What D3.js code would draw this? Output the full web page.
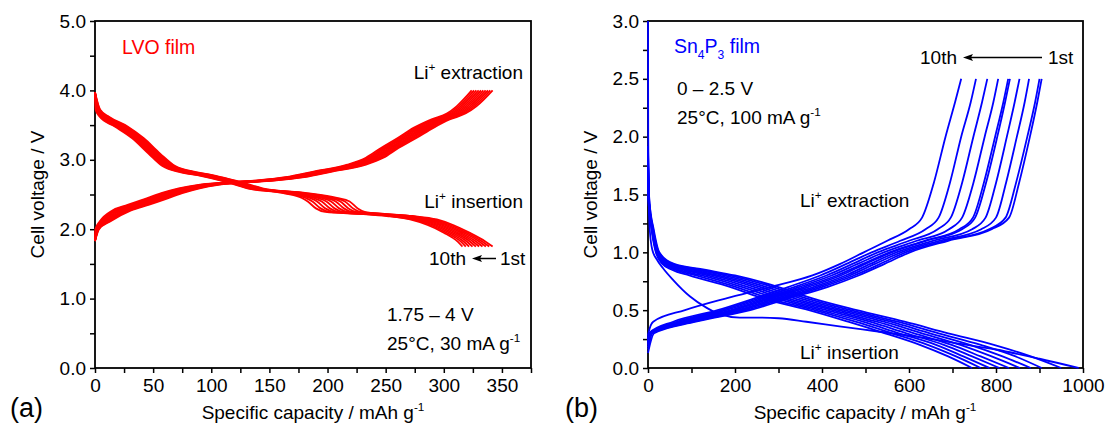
<!DOCTYPE html>
<html><head><meta charset="utf-8">
<script src="https://cdn.jsdelivr.net/npm/d3@7"></script>
<style>body{margin:0;background:#fff}</style>
</head><body>
<svg id="c" width="1109" height="426" xmlns="http://www.w3.org/2000/svg"></svg>
<script>
// ---------------- DATA ----------------
// Panel (a): LVO film, 10 cycles. Rows = voltage levels, columns = cycle 1..10 (capacity, mAh/g)
const lvoXMajor = [0,50,100,150,200,250,300,350];
const lvoXMinor = [25,75,125,175,225,275,325,375];
const lvoYMajor = [0,1,2,3,4,5];
const lvoYMinor = [0.5,1.5,2.5,3.5,4.5];

const lvoDisV = [3.97,3.72,3.62,3.48,3.31,3.09,2.91,2.82,2.77,2.69,2.59,2.52,2.45,2.40,2.30,2.25,2.22,2.19,2.14,2.06,1.95,1.82,1.75];
const lvoDisCap = [
 [0,0,0,0,0,0,0,0,0,0],
 [4.5,4.1,3.6,3.2,2.7,2.3,1.8,1.4,0.9,0.5],
 [12,11.1,10.2,9.3,8.4,7.6,6.7,5.8,4.9,4],
 [28,26.8,25.6,24.3,23.1,21.9,20.7,19.4,18.2,17],
 [42,40.9,39.8,38.7,37.6,36.4,35.3,34.2,33.1,32],
 [56,54.9,53.8,52.7,51.6,50.4,49.3,48.2,47.1,46],
 [69,67.8,66.6,65.3,64.1,62.9,61.7,60.4,59.2,58],
 [88,86.4,84.9,83.3,81.8,80.2,78.7,77.1,75.6,74],
 [104,102.6,101.1,99.7,98.2,96.8,95.3,93.9,92.4,91],
 [123,121.7,120.3,119,117.7,116.3,115,113.7,112.3,111],
 [144,142.6,141.1,139.7,138.2,136.8,135.3,133.9,132.4,131],
 [182,179.8,177.6,175.3,173.1,170.9,168.7,166.4,164.2,162],
 [208,204.7,201.3,198,194.7,191.3,188,184.7,181.3,178],
 [219,215,211,207,203,199,195,191,187,183],
 [226,222,218,214,210,206,202,198,194,190],
 [232,228.2,224.4,220.7,216.9,213.1,209.3,205.6,201.8,198],
 [249,246.8,244.6,242.3,240.1,237.9,235.7,233.4,231.2,229],
 [273,270.6,268.1,265.7,263.2,260.8,258.3,255.9,253.4,251],
 [294,291.4,288.9,286.3,283.8,281.2,278.7,276.1,273.6,271],
 [308,305.6,303.1,300.7,298.2,295.8,293.3,290.9,288.4,286],
 [322,319.6,317.1,314.7,312.2,309.8,307.3,304.9,302.4,300],
 [336,333.3,330.7,328,325.3,322.7,320,317.3,314.7,312],
 [342,339.1,336.2,333.3,330.4,327.6,324.7,321.8,318.9,316]
];

const lvoChgV = [1.83,2.00,2.11,2.27,2.35,2.43,2.52,2.59,2.64,2.67,2.70,2.75,2.83,2.93,3.03,3.17,3.31,3.46,3.58,3.67,3.77,4.00];
const lvoChgCap = [
 [0,0,0,0,0,0,0,0,0,0],
 [3.5,3.1,2.8,2.4,2.1,1.7,1.4,1.0,0.7,0.3],
 [13,12,11,10,9,8,7,6,5,4],
 [31,29.2,27.4,25.7,23.9,22.1,20.3,18.6,16.8,15],
 [46,44,42,40,38,36,34,32,30,28],
 [60,58,56,54,52,50,48,46,44,42],
 [75,73,71,69,67,65,63,61,59,57],
 [90,88,86,84,82,80,78,76,74,72],
 [106,104.1,102.2,100.3,98.4,96.6,94.7,92.8,90.9,89],
 [125,123.2,121.4,119.7,117.9,116.1,114.3,112.6,110.8,109],
 [154,152.1,150.2,148.3,146.4,144.6,142.7,140.8,138.9,137],
 [180,178.2,176.4,174.7,172.9,171.1,169.3,167.6,165.8,164],
 [204,202.2,200.4,198.7,196.9,195.1,193.3,191.6,189.8,188],
 [233,231.2,229.4,227.7,225.9,224.1,222.3,220.6,218.8,217],
 [248,246.3,244.7,243,241.3,239.7,238,236.3,234.7,233],
 [261,259.3,257.7,256,254.3,252.7,251,249.3,247.7,246],
 [276,274.2,272.4,270.7,268.9,267.1,265.3,263.6,261.8,260],
 [291,289.1,287.2,285.3,283.4,281.6,279.7,277.8,275.9,274],
 [305,303.2,301.4,299.7,297.9,296.1,294.3,292.6,290.8,289],
 [319,317.2,315.4,313.7,311.9,310.1,308.3,306.6,304.8,303],
 [328,326.1,324.2,322.3,320.4,318.6,316.7,314.8,312.9,311],
 [342,340,338,336,334,332,330,328,326,324]
];

// Panel (b): Sn4P3 film
const snXMajor = [0,200,400,600,800,1000];
const snXMinor = [100,300,500,700,900];
const snYMajor = [0,0.5,1,1.5,2,2.5,3];
const snYMinor = [0.25,0.75,1.25,1.75,2.25,2.75];

// charge (extraction), columns = cycle 1..10
const snChgStartV = [0.13,0.16,0.18,0.20,0.21,0.22,0.23,0.24,0.25,0.28];
const snChgV = [0.30,0.40,0.50,0.60,0.70,0.80,0.90,1.00,1.10,1.20,1.30,1.60,2.00,2.30,2.50];
const snChgCap = [
 [14,10,8,7,6,5,4,3,2,1],
 [110,104,98,92,86,80,73,66,58,12],
 [235,226,216,207,198,190,180,170,160,85],
 [322,312,302,292,282,273,263,253,243,178],
 [412,400,390,380,368,358,347,336,322,282],
 [484,474,464,454,443,434,422,410,396,378],
 [544,534,522,511,500,494,482,470,456,442],
 [602,592,582,571,560,555,542,528,514,496],
 [690,682,670,655,640,636,618,600,580,550],
 [790,784,766,745,722,716,692,666,638,600],
 [830,822,800,776,752,747,722,696,668,630],
 [853,846,823,800,777,772,748,722,694,657],
 [878,872,848,825,803,798,774,748,720,684],
 [895,890,866,843,821,817,794,768,742,706],
 [905,900,876,854,832,828,805,780,754,720]
];

// first discharge (insertion)
const snDis1Cap = [0,0.5,1.5,4,10,20,35,58,96,135,165,211,260,300,364,440,520,600,700,800,900,990];
const snDis1V   = [3.0,2.0,1.5,1.2,1.02,0.94,0.86,0.76,0.62,0.52,0.465,0.435,0.435,0.43,0.40,0.36,0.32,0.28,0.22,0.16,0.08,0];

// discharges of cycles 2..10, columns = cycle 2..10
const snDisStartV = [1.92,1.88,1.85,1.83,1.81,1.79,1.77,1.75,1.73];
const snDisV = [1.45,1.20,1.00,0.90,0.85,0.80,0.70,0.60,0.50,0.40,0.30,0.20,0.10,0.00];
const snDisCap = [
 [3,3,2,2,2,2,2,1,1],
 [13,12,11,11,10,10,9,9,8],
 [26,25,24,23,22,21,20,19,18],
 [60,56,52,48,45,42,39,36,33],
 [130,120,110,100,90,80,70,62,55],
 [200,188,175,162,150,137,124,110,95],
 [300,287,273,259,245,231,217,203,190],
 [380,366,352,338,324,310,296,280,265],
 [480,466,452,438,424,410,396,383,370],
 [590,574,558,542,526,510,494,477,460],
 [690,668,648,630,612,594,577,561,545],
 [795,765,740,718,698,680,662,643,625],
 [880,845,815,790,765,745,725,708,690],
 [950,905,880,855,830,808,785,765,745]
];

// ---------------- DRAW ----------------
const FONT = '"Liberation Sans", Arial, Helvetica, sans-serif';
const svg = d3.select("#c");
svg.append("rect").attr("width",1109).attr("height",426).attr("fill","#fff");

const xA = d3.scaleLinear().domain([0,375]).range([95,531]);
const yA = d3.scaleLinear().domain([0,5]).range([368,21]);
const xB = d3.scaleLinear().domain([0,1000]).range([648,1083]);
const yB = d3.scaleLinear().domain([0,3]).range([368,21]);

function axes(g, x, y, xMaj, xMin, yMaj, yMin, xFmt, yFmt){
  const [x0,x1] = x.range(), [y0,y1] = y.range();
  const xa = d3.axisBottom(x).tickValues(xMaj.concat(xMin)).tickSize(5).tickPadding(6)
    .tickFormat(d => xMaj.includes(d) ? xFmt(d) : "");
  g.append("g").attr("transform",`translate(0,${y0})`).call(xa);
  const ya = d3.axisLeft(y).tickValues(yMaj.concat(yMin)).tickSize(5).tickPadding(4)
    .tickFormat(d => yMaj.includes(d) ? yFmt(d) : "");
  g.append("g").attr("transform",`translate(${x0},0)`).call(ya);
  g.selectAll(".domain").remove();
  g.selectAll(".tick line").attr("stroke","#000").attr("stroke-width",1.5);
  g.selectAll(".tick text").attr("font-size",19).attr("fill","#000").attr("font-family",FONT);
  g.append("rect").attr("x",x0).attr("y",y1).attr("width",x1-x0).attr("height",y0-y1)
    .attr("fill","none").attr("stroke","#000").attr("stroke-width",1.8);
}

function cycles(levels, rows, startV){
  const n = rows[0].length, out = [];
  for (let k=0;k<n;k++){
    const pts = [];
    if (startV) pts.push([0,startV[k]]);
    levels.forEach((v,i)=>pts.push([rows[i][k], v]));
    out.push(pts);
  }
  return out;
}

function rich(g, x, y, parts, size, color, anchor){
  const t = g.append("text").attr("x",x).attr("y",y).attr("font-size",size)
    .attr("fill",color||"#000").attr("font-family",FONT).attr("text-anchor",anchor||"start");
  let cur = 0;
  parts.forEach(p=>{
    const [s,k] = typeof p === "string" ? [p,"n"] : p;
    const target = k==="sup" ? -0.42*size : k==="sub" ? 0.3*size : 0;
    const ts = t.append("tspan").attr("dy", target-cur).text(s);
    if (k!=="n") ts.attr("font-size", size*0.62);
    cur = target;
  });
  return t;
}

function arrowLeft(g, xl, xr, y){
  g.append("line").attr("x1",xl+6).attr("x2",xr).attr("y1",y).attr("y2",y)
    .attr("stroke","#000").attr("stroke-width",1.5);
  g.append("path").attr("d",`M${xl},${y}L${xl+10},${y-3.5}L${xl+8},${y}L${xl+10},${y+3.5}Z`).attr("fill","#000");
}

// ---- Panel (a)
const gA = svg.append("g");
axes(gA, xA, yA, lvoXMajor, lvoXMinor, lvoYMajor, lvoYMinor, d3.format("d"), d3.format(".1f"));
const lineA = d3.line().x(d=>xA(d[0])).y(d=>yA(d[1])).curve(d3.curveMonotoneX);
const lvoSeries = cycles(lvoDisV, lvoDisCap).concat(cycles(lvoChgV, lvoChgCap));
gA.append("g").selectAll("path").data(lvoSeries).join("path")
  .attr("d", lineA).attr("fill","none").attr("stroke","#ff0000").attr("stroke-width",1.8);

rich(gA, 122, 54, ["LVO film"], 19.5, "#ff0000");
rich(gA, 523, 79, ["Li",["+","sup"]," extraction"], 19, "#000", "end");
rich(gA, 523, 208, ["Li",["+","sup"]," insertion"], 19, "#000", "end");
rich(gA, 429, 265, ["10th"], 19);
arrowLeft(gA, 472, 496, 258.5);
rich(gA, 500, 265, ["1st"], 19);
rich(gA, 387, 321, ["1.75 \u2013 4 V"], 19);
rich(gA, 387, 350, ["25\u00B0C, 30 mA g",["-1","sup"]], 19);
rich(gA, 10, 417, ["(a)"], 27);
rich(gA, 313, 419, ["Specific capacity / mAh g",["-1","sup"]], 19, "#000", "middle");
gA.append("text").attr("transform","translate(44,194.5) rotate(-90)").attr("text-anchor","middle")
  .attr("font-size",19).attr("font-family",FONT).text("Cell voltage / V");

// ---- Panel (b)
const gB = svg.append("g");
axes(gB, xB, yB, snXMajor, snXMinor, snYMajor, snYMinor, d3.format("d"), d3.format(".1f"));
const lineB = d3.line().x(d=>xB(d[0])).y(d=>yB(d[1])).curve(d3.curveMonotoneX);
const snSeries = [snDis1Cap.map((c,i)=>[c, snDis1V[i]])]
  .concat(cycles(snDisV, snDisCap, snDisStartV))
  .concat(cycles(snChgV, snChgCap, snChgStartV));
gB.append("g").selectAll("path").data(snSeries).join("path")
  .attr("d", lineB).attr("fill","none").attr("stroke","#0000ff").attr("stroke-width",1.8);

rich(gB, 674, 53, ["Sn",["4","sub"],"P",["3","sub"]," film"], 19.5, "#0000ff");
rich(gB, 920, 64, ["10th"], 19);
arrowLeft(gB, 963, 1042, 57.5);
rich(gB, 1048, 64, ["1st"], 19);
rich(gB, 677, 95, ["0 \u2013 2.5 V"], 19);
rich(gB, 677, 124, ["25\u00B0C, 100 mA g",["-1","sup"]], 19);
rich(gB, 800, 207, ["Li",["+","sup"]," extraction"], 19);
rich(gB, 800, 359, ["Li",["+","sup"]," insertion"], 19);
rich(gB, 565, 417, ["(b)"], 27);
rich(gB, 865, 419, ["Specific capacity / mAh g",["-1","sup"]], 19, "#000", "middle");
gB.append("text").attr("transform","translate(597,194.5) rotate(-90)").attr("text-anchor","middle")
  .attr("font-size",19).attr("font-family",FONT).text("Cell voltage / V");
</script>
</body></html>
